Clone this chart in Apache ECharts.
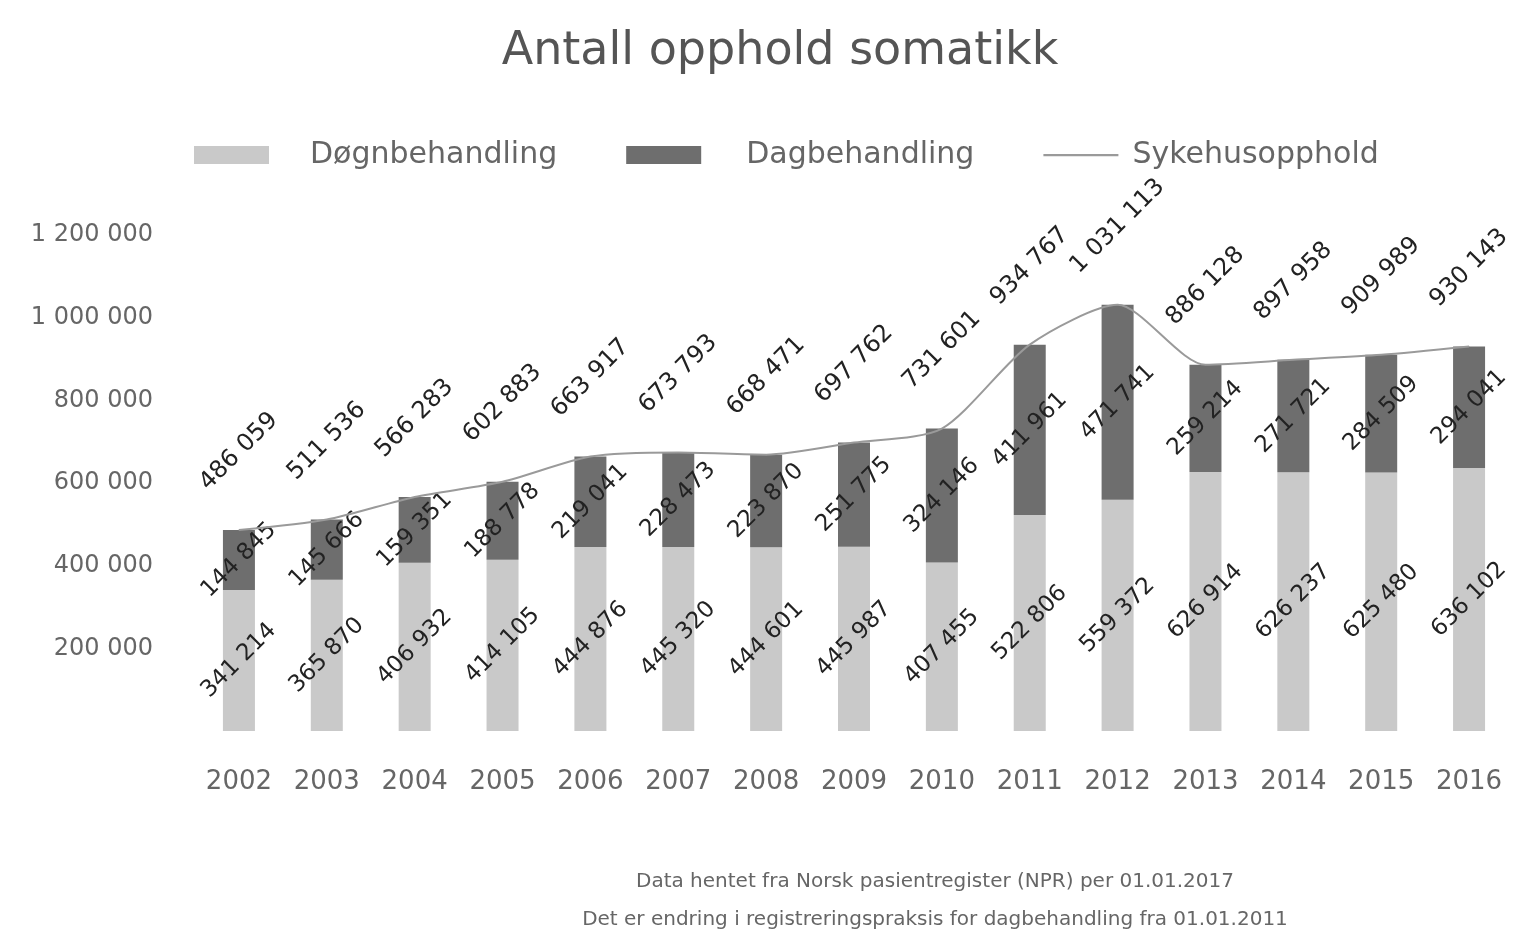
<!DOCTYPE html>
<html>
<head>
<meta charset="utf-8">
<title>Antall opphold somatikk</title>
<script src="https://cdn.jsdelivr.net/npm/echarts@6/dist/echarts.min.js"></script>
<style>
  html, body { margin: 0; padding: 0; background: #fff; }
  #chart { width: 1514px; height: 936px; }
</style>
</head>
<body>
<div id="chart"></div>
<script>
var years = ['2002','2003','2004','2005','2006','2007','2008','2009','2010','2011','2012','2013','2014','2015','2016'];
var dogn = [341214, 365870, 406932, 414105, 444876, 445320, 444601, 445987, 407455, 522806, 559372, 626914, 626237, 625480, 636102];
var dag = [144845, 145666, 159351, 188778, 219041, 228473, 223870, 251775, 324146, 411961, 471741, 259214, 271721, 284509, 294041];
var totalt = [486059, 511536, 566283, 602883, 663917, 673793, 668471, 697762, 731601, 934767, 1031113, 886128, 897958, 909989, 930143];
var yTicks = [0, 200000, 400000, 600000, 800000, 1000000, 1200000];

function fmt(v) {
    return String(v).replace(/\B(?=(\d{3})+(?!\d))/g, ' ');
}

var chart = echarts.init(document.getElementById('chart'));
var font = 'DejaVu Sans';

var option = {
    animation: false,
    textStyle: { fontFamily: font },
    title: [{
        text: 'Antall opphold somatikk',
        left: 775, top: 24, textAlign: 'center',
        textStyle: { fontSize: 46, fontWeight: 'normal', color: '#555', fontFamily: font }
    }, {
        text: 'Data hentet fra Norsk pasientregister (NPR) per 01.01.2017\nDet er endring i registreringspraksis for dagbehandling fra 01.01.2011',
        left: 930, top: 858, textAlign: 'center',
        textStyle: { fontSize: 20, fontWeight: 'normal', color: '#666', lineHeight: 38, fontFamily: font }
    }],
    legend: {
        left: 194, top: 140, padding: 0,
        itemWidth: 75, itemHeight: 18, itemGap: 69,
        icon: 'rect',
        textStyle: { fontSize: 30, color: '#666', fontFamily: font },
        data: [
            { name: 'Døgnbehandling', textStyle: { padding: [0, 0, 0, 36] } },
            { name: 'Dagbehandling', textStyle: { padding: [0, 0, 0, 40] } },
            { name: 'Sykehusopphold', icon: 'path://M0,0L100,0L100,3L0,3Z', textStyle: { padding: [0, 0, 0, 9] } }
        ]
    },
    grid: { left: 195, right: 1, top: 235, bottom: 205 },
    xAxis: {
        type: 'category',
        data: years,
        axisLine: { show: false },
        axisTick: { show: false },
        axisLabel: { fontSize: 26, color: '#666', margin: 38, interval: 0 }
    },
    yAxis: {
        type: 'value',
        min: yTicks[0], max: yTicks[yTicks.length - 1], interval: 200000,
        splitLine: { show: false },
        axisLine: { show: false },
        axisTick: { show: false },
        axisLabel: { fontSize: 24, color: '#666', margin: 42, showMinLabel: false, formatter: fmt }
    },
    series: [{
        name: 'Døgnbehandling',
        type: 'bar', stack: 'opphold', barWidth: 32,
        data: dogn,
        itemStyle: { color: '#c9c9c9' },
        label: { show: true, position: 'inside', rotate: 45, fontSize: 23, color: '#222', formatter: function (p) { return fmt(p.value); } }
    }, {
        name: 'Dagbehandling',
        type: 'bar', stack: 'opphold', barWidth: 32,
        data: dag,
        itemStyle: { color: '#6e6e6e' },
        label: { show: true, position: 'inside', rotate: 45, fontSize: 23, color: '#222', formatter: function (p) { return fmt(p.value); } }
    }, {
        name: 'Sykehusopphold',
        type: 'line', smooth: 0.25,
        data: totalt,
        symbol: 'circle', symbolSize: 1,
        lineStyle: { color: '#9a9a9a', width: 2 },
        itemStyle: { color: '#9a9a9a' },
        label: {
            show: true, position: 'top', distance: 78, rotate: 45,
            align: 'center', verticalAlign: 'middle',
            fontSize: 24, color: '#222',
            formatter: function (p) { return fmt(p.value); }
        },
        z: 5
    }]
};
chart.setOption(option);
</script>
</body>
</html>
